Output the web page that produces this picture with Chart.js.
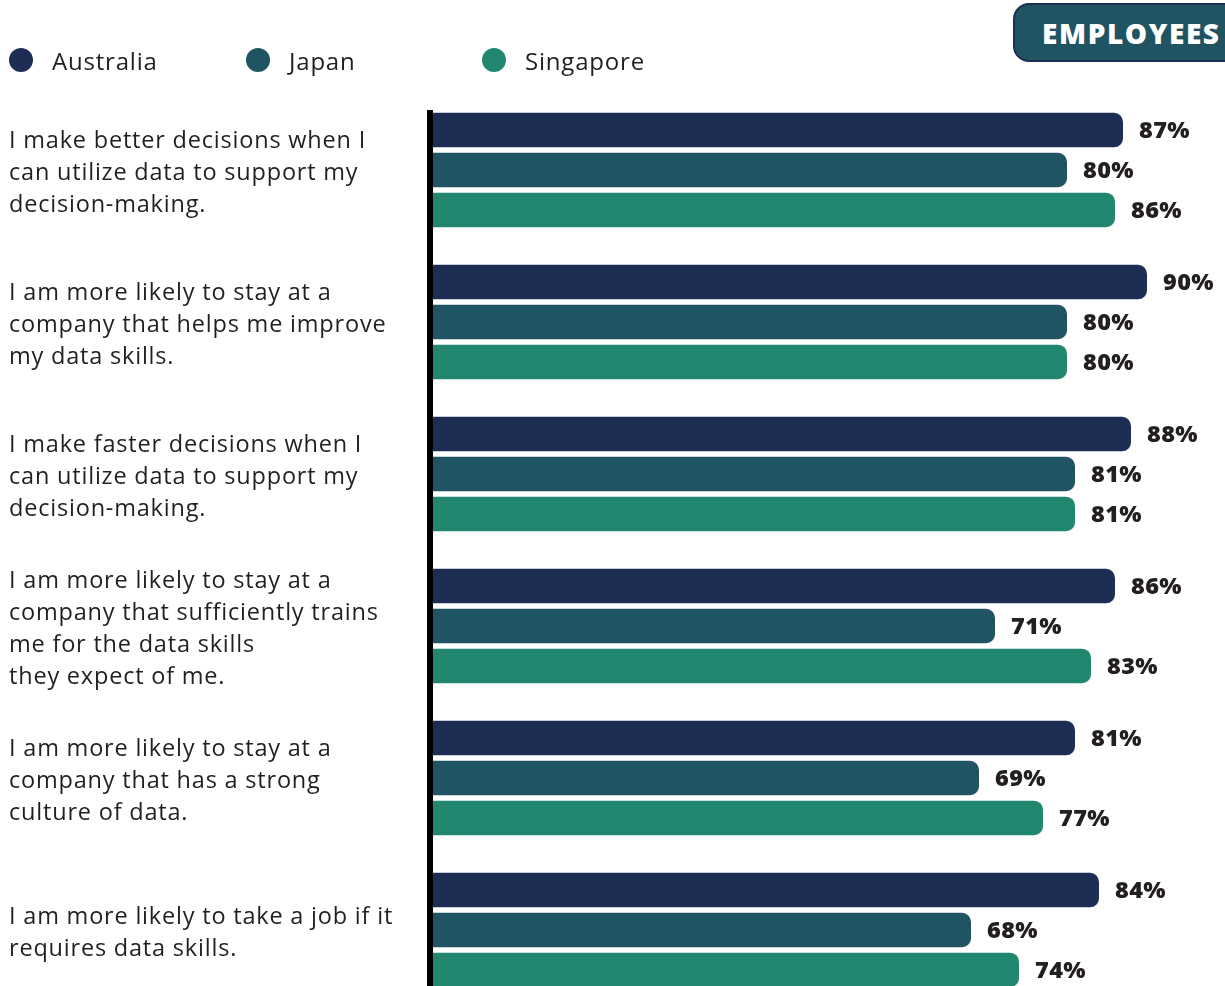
<!DOCTYPE html>
<html>
<head>
<meta charset="utf-8">
<script src="https://cdn.jsdelivr.net/npm/chart.js@4/dist/chart.umd.min.js"></script>
<style>
  html, body { margin: 0; padding: 0; background: #ffffff; overflow: hidden; }
  #wrap { position: relative; width: 1225px; height: 986px; overflow: hidden; }
  canvas { position: absolute; left: 0; top: 0; }
  .leg { position: absolute; top: 48px; height: 24px; display: flex; align-items: center; font-family: "Open Sans", sans-serif; font-size: 24px; letter-spacing: 0.8px; color: #231f20; }
  .dot { width: 24px; height: 24px; border-radius: 50%; margin-right: 19px; flex: none; }
  #badge { position: absolute; left: 1013px; top: 3px; width: 240px; height: 59px; box-sizing: border-box;
    border: 2px solid #1e2d54; border-radius: 16px; background: #215462; color: #fff;
    font-family: "Open Sans", sans-serif; font-weight: 800; font-size: 28px; letter-spacing: 1.6px; line-height: 57px; padding-left: 27px; }
</style>
</head>
<body>
<div id="wrap">
  <canvas id="c" width="1225" height="1006"></canvas>
  <div class="leg" style="left:9px"><span class="dot" style="background:#1e2d54"></span>Australia</div>
  <div class="leg" style="left:246px"><span class="dot" style="background:#215462"></span>Japan</div>
  <div class="leg" style="left:482px"><span class="dot" style="background:#218770"></span>Singapore</div>
  <div id="badge">EMPLOYEES</div>
</div>
<script>
const categories = [
  ["I make better decisions when I", "can utilize data to support my", "decision-making."],
  ["I am more likely to stay at a", "company that helps me improve", "my data skills."],
  ["I make faster decisions when I", "can utilize data to support my", "decision-making."],
  ["I am more likely to stay at a", "company that sufficiently trains", "me for the data skills", "they expect of me."],
  ["I am more likely to stay at a", "company that has a strong", "culture of data."],
  ["I am more likely to take a job if it", "requires data skills."]
];
const seriesNames = ["Australia", "Japan", "Singapore"];
const australia = [87, 90, 88, 86, 81, 84];
const japan = [80, 80, 81, 71, 69, 68];
const singapore = [86, 80, 81, 83, 77, 74];
const colors = ["#1e2d54", "#215462", "#218770"];

const spacing = {
  id: 'spacing',
  beforeDraw(chart) { chart.ctx.letterSpacing = '0.8px'; }
};
const valueLabels = {
  id: 'valueLabels',
  afterDatasetsDraw(chart) {
    const ctx = chart.ctx;
    ctx.save();
    ctx.letterSpacing = '0.4px';
    ctx.font = '800 23.5px "Open Sans", sans-serif';
    ctx.fillStyle = '#231f20';
    ctx.textBaseline = 'middle';
    ctx.textAlign = 'left';
    chart.data.datasets.forEach((ds, i) => {
      chart.getDatasetMeta(i).data.forEach((bar, j) => {
        ctx.fillText(ds.data[j] + '%', bar.x + 16, bar.y + 1);
      });
    });
    ctx.restore();
  }
};
const axisLine = {
  id: 'axisLine',
  afterDatasetsDraw(chart) {
    const ctx = chart.ctx;
    ctx.save();
    ctx.fillStyle = '#000000';
    ctx.fillRect(chart.chartArea.left, 110, 6, chart.height - 110);
    ctx.restore();
  }
};

new Chart(document.getElementById('c'), {
  type: 'bar',
  data: {
    labels: categories,
    datasets: [
      { label: seriesNames[0], data: australia, backgroundColor: colors[0] },
      { label: seriesNames[1], data: japan, backgroundColor: colors[1] },
      { label: seriesNames[2], data: singapore, backgroundColor: colors[2] }
    ]
  },
  options: {
    indexAxis: 'y',
    responsive: false,
    animation: false,
    devicePixelRatio: 1,
    layout: { padding: { left: 9, top: 94, right: 0, bottom: 0 } },
    datasets: {
      bar: { categoryPercentage: 0.789, barPercentage: 0.8625, borderRadius: 9, borderSkipped: 'start' }
    },
    plugins: { legend: { display: false }, tooltip: { enabled: false } },
    scales: {
      x: { display: false, min: 0, max: 99.75 },
      y: {
        grid: { display: false },
        border: { display: false },
        afterFit(scale) { scale.width = 418; scale.paddingTop = 0; scale.paddingBottom = 0; },
        ticks: {
          crossAlign: 'far',
          autoSkip: false,
          labelOffset: 3,
          color: '#231f20',
          font: { family: '"Open Sans", sans-serif', size: 23.5, lineHeight: '32px' }
        }
      }
    }
  },
  plugins: [spacing, valueLabels, axisLine]
});
</script>
</body>
</html>
